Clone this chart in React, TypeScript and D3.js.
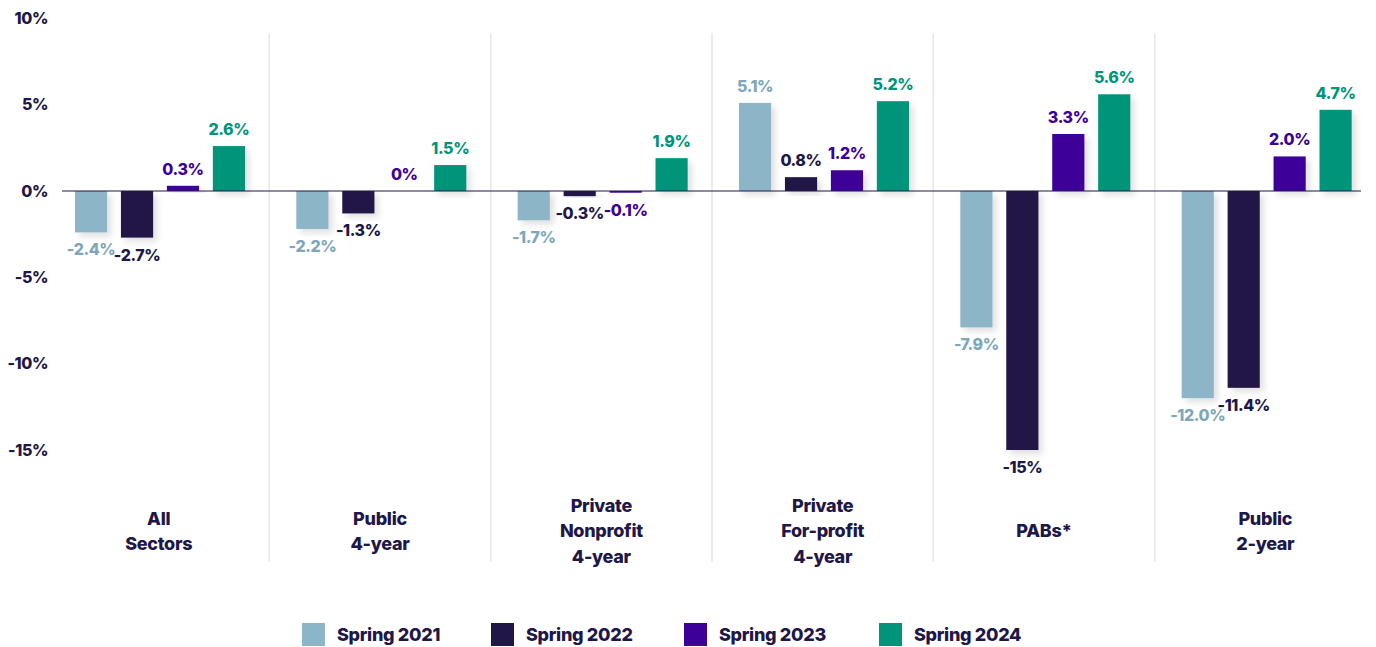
import React, { useEffect, useRef } from 'react';
import * as d3 from 'd3';

const sectors = [
  ['All', 'Sectors'],
  ['Public', '4-year'],
  ['Private', 'Nonprofit', '4-year'],
  ['Private', 'For-profit', '4-year'],
  ['PABs*'],
  ['Public', '2-year'],
];
const seriesNames = ['Spring 2021', 'Spring 2022', 'Spring 2023', 'Spring 2024'];
const spring2021 = [-2.4, -2.2, -1.7, 5.1, -7.9, -12.0];
const spring2022 = [-2.7, -1.3, -0.3, 0.8, -15, -11.4];
const spring2023 = [0.3, 0, -0.1, 1.2, 3.3, 2.0];
const spring2024 = [2.6, 1.5, 1.9, 5.2, 5.6, 4.7];
const valueLabels = [
  ['-2.4%', '-2.2%', '-1.7%', '5.1%', '-7.9%', '-12.0%'],
  ['-2.7%', '-1.3%', '-0.3%', '0.8%', '-15%', '-11.4%'],
  ['0.3%', '0%', '-0.1%', '1.2%', '3.3%', '2.0%'],
  ['2.6%', '1.5%', '1.9%', '5.2%', '5.6%', '4.7%'],
];
const yTicks = [10, 5, 0, -5, -10, -15];

const barColors = ['#8db5c8', '#201747', '#3d0099', '#00957a'];
const textColors = ['#7ea7b9', '#201747', '#3d0099', '#00957a'];
const dark = '#201747';
const font = 'Inter, sans-serif';

export default function App() {
  const ref = useRef<SVGSVGElement>(null);

  useEffect(() => {
    const svg = d3.select(ref.current);
    svg.selectAll('*').remove();

    const series = [spring2021, spring2022, spring2023, spring2024];

    const defs = svg.append('defs');
    defs.append('filter')
      .attr('id', 'shadow')
      .attr('x', '-30%').attr('y', '-30%').attr('width', '160%').attr('height', '160%')
      .append('feDropShadow')
      .attr('dx', 4).attr('dy', 4).attr('stdDeviation', 3)
      .attr('flood-color', '#000').attr('flood-opacity', 0.12);

    const x0 = d3.scaleBand<number>()
      .domain(d3.range(sectors.length))
      .range([48, 1376]);
    const x1 = d3.scaleBand<number>()
      .domain(d3.range(seriesNames.length))
      .range([27, 197])
      .paddingInner(0.3);
    const y = d3.scaleLinear().domain([-15, 10]).range([450, 18.3]);

    // separators
    svg.append('g')
      .selectAll('line')
      .data(d3.range(1, sectors.length))
      .join('line')
      .attr('x1', d => x0(d)!)
      .attr('x2', d => x0(d)!)
      .attr('y1', 33)
      .attr('y2', 562)
      .attr('stroke', '#e6e6e6')
      .attr('stroke-width', 1.5);

    // y ticks
    svg.append('g')
      .selectAll('text')
      .data(yTicks)
      .join('text')
      .attr('x', 48)
      .attr('y', d => y(d))
      .attr('dy', '0.35em')
      .attr('text-anchor', 'end')
      .attr('font-family', font)
      .attr('font-weight', 800)
      .attr('font-size', 16)
      .attr('letter-spacing', -0.4)
      .attr('fill', dark)
      .text(d => `${d}%`);

    // bars + value labels
    const groups = svg.append('g')
      .selectAll('g')
      .data(d3.range(sectors.length))
      .join('g')
      .attr('transform', d => `translate(${x0(d)},0)`);

    groups.each(function (gi) {
      const g = d3.select(this);
      series.forEach((vals, si) => {
        const v = vals[gi];
        if (v !== 0) {
          g.append('rect')
            .attr('x', x1(si)!)
            .attr('y', y(Math.max(0, v)))
            .attr('width', x1.bandwidth())
            .attr('height', Math.abs(y(v) - y(0)))
            .attr('fill', barColors[si])
            .attr('filter', 'url(#shadow)');
        }
        const end = y(v);
        g.append('text')
          .attr('x', x1(si)! + x1.bandwidth() / 2)
          .attr('y', v >= 0 ? end - 11 : end + 23)
          .attr('text-anchor', 'middle')
          .attr('font-family', font)
          .attr('font-weight', 800)
          .attr('font-size', 16)
          .attr('letter-spacing', -0.4)
          .attr('fill', textColors[si])
          .text(valueLabels[si][gi]);
      });
    });

    // zero line
    svg.append('line')
      .attr('x1', 62)
      .attr('x2', 1361)
      .attr('y1', y(0))
      .attr('y2', y(0))
      .attr('stroke', dark)
      .attr('stroke-width', 1.2);

    // category labels
    const cat = svg.append('g')
      .selectAll('text')
      .data(sectors)
      .join('text')
      .attr('x', (_, i) => x0(i)! + x0.bandwidth() / 2)
      .attr('y', d => 531 - ((d.length - 1) * 25.5) / 2)
      .attr('text-anchor', 'middle')
      .attr('font-family', font)
      .attr('font-weight', 800)
      .attr('font-size', 18)
      .attr('letter-spacing', -0.3)
      .attr('fill', dark);
    cat.each(function (d) {
      const t = d3.select(this);
      d.forEach((line, li) => {
        t.append('tspan')
          .attr('x', t.attr('x'))
          .attr('dy', li === 0 ? '0.35em' : 25.5)
          .text(line);
      });
    });

    // legend
    const legendX = [302, 491, 684, 879];
    const legend = svg.append('g')
      .selectAll('g')
      .data(seriesNames)
      .join('g')
      .attr('transform', (_, i) => `translate(${legendX[i]},623)`);
    legend.append('rect')
      .attr('width', 23)
      .attr('height', 23)
      .attr('fill', (_, i) => barColors[i]);
    legend.append('text')
      .attr('x', 35)
      .attr('y', 11.5)
      .attr('dy', '0.35em')
      .attr('font-family', font)
      .attr('font-weight', 800)
      .attr('font-size', 18)
      .attr('letter-spacing', -0.3)
      .attr('fill', dark)
      .text(d => d);
  }, []);

  return (
    <svg
      ref={ref}
      width={1376}
      height={647}
      style={{ position: 'absolute', left: 0, top: 0, background: '#fff' }}
    />
  );
}
